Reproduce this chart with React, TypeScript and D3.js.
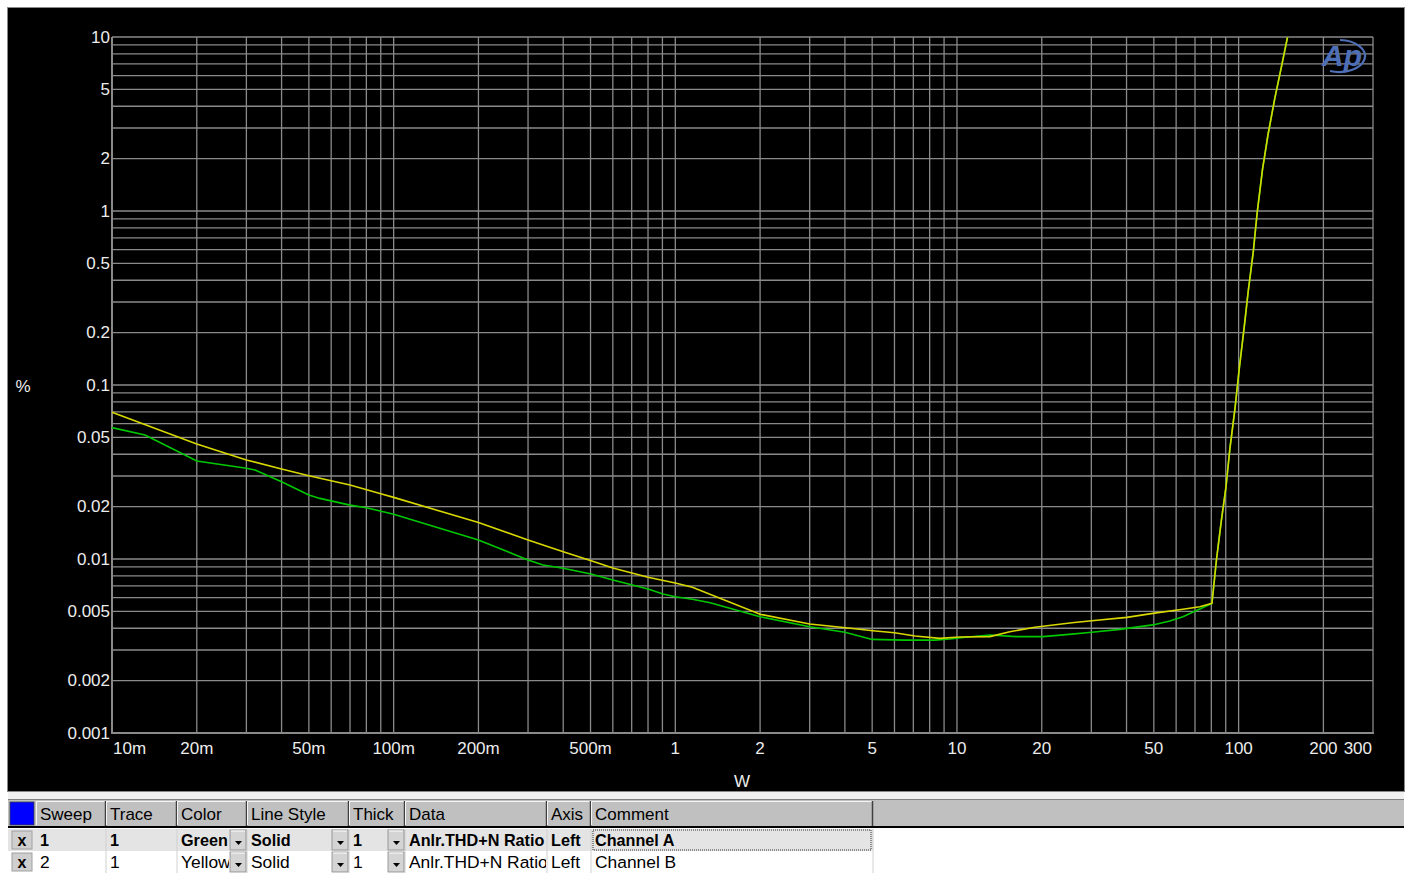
import React from 'react';
import * as d3 from 'd3';

// axis ticks
const xTickValues = [0.01, 0.02, 0.05, 0.1, 0.2, 0.5, 1, 2, 5, 10, 20, 50, 100, 200, 300];
const xTickLabels = ['10m', '20m', '50m', '100m', '200m', '500m', '1', '2', '5', '10', '20', '50', '100', '200', '300'];
const yTickValues = [0.001, 0.002, 0.005, 0.01, 0.02, 0.05, 0.1, 0.2, 0.5, 1, 2, 5, 10];
const yTickLabels = ['0.001', '0.002', '0.005', '0.01', '0.02', '0.05', '0.1', '0.2', '0.5', '1', '2', '5', '10'];

// Channel A (green)
const powerA = [0.01, 0.0131, 0.02, 0.03, 0.0322, 0.04, 0.05, 0.0547, 0.07, 0.08, 0.1, 0.2, 0.3, 0.339, 0.4, 0.506, 0.6, 0.8, 0.904, 1.0, 1.15, 1.33, 2.0, 3.0, 4.0, 5.0, 6.53, 8.35, 9.44, 10.7, 13.1, 16.2, 20.2, 25.6, 30.1, 37.9, 49.6, 57.0, 63.4, 72.8, 80.4, 83.5, 86.9, 90.1, 93.1, 97.0, 100.4, 104.7, 108.2, 112.7, 116.4, 121.6, 127.3, 134.4, 141.9, 149.1];
const thdA = [0.0569, 0.0516, 0.0366, 0.0332, 0.0325, 0.0278, 0.0233, 0.0223, 0.0204, 0.0197, 0.0181, 0.01286, 0.00987, 0.00924, 0.00885, 0.00817, 0.00757, 0.00672, 0.00629, 0.00607, 0.00587, 0.00561, 0.00466, 0.00408, 0.00379, 0.00345, 0.00342, 0.00342, 0.00347, 0.00355, 0.00366, 0.00358, 0.00358, 0.0037, 0.00379, 0.00394, 0.00418, 0.0044, 0.00466, 0.00516, 0.00556, 0.01, 0.0168, 0.0256, 0.0429, 0.0724, 0.122, 0.216, 0.347, 0.581, 0.979, 1.74, 2.77, 4.44, 6.73, 9.95];

// Channel B (yellow)
const powerB = [0.01, 0.02, 0.03, 0.04, 0.05, 0.07, 0.09, 0.1, 0.2, 0.3, 0.4, 0.506, 0.6, 0.8, 1.0, 1.15, 2.0, 3.0, 4.03, 5.03, 6.0, 7.1, 8.7, 10.2, 13.1, 15.4, 18.9, 25.6, 30.1, 40.1, 49.6, 63.4, 72.8, 80.4, 83.5, 86.9, 90.1, 93.1, 97.0, 100.4, 104.7, 108.2, 112.7, 116.4, 121.6, 127.3, 134.4, 141.9, 149.1];
const thdB = [0.0697, 0.0458, 0.0371, 0.0329, 0.0301, 0.0266, 0.0237, 0.0226, 0.0162, 0.01286, 0.01101, 0.00974, 0.00888, 0.00785, 0.00728, 0.00688, 0.00481, 0.00423, 0.00403, 0.00387, 0.00377, 0.00361, 0.0035, 0.00356, 0.00358, 0.00382, 0.00405, 0.0043, 0.00442, 0.00462, 0.00487, 0.00514, 0.00532, 0.00556, 0.01, 0.0168, 0.0256, 0.0429, 0.0724, 0.122, 0.216, 0.347, 0.581, 0.979, 1.74, 2.77, 4.44, 6.73, 9.95];

// legend table
const headers = ['Sweep', 'Trace', 'Color', 'Line Style', 'Thick', 'Data', 'Axis', 'Comment'];
const rowA = ['1', '1', 'Green', 'Solid', '1', 'Anlr.THD+N Ratio', 'Left', 'Channel A'];
const rowB = ['2', '1', 'Yellow', 'Solid', '1', 'Anlr.THD+N Ratio', 'Left', 'Channel B'];

const FONT = '"Liberation Sans", Arial, sans-serif';

function decadeGrid(lo: number, hi: number) {
  const out: number[] = [];
  for (let d = lo; d < hi; d *= 10) {
    for (let m = 1; m <= 9; m++) {
      const v = +(d * m).toPrecision(6);
      if (v <= hi * 1.0001) out.push(v);
    }
  }
  out.push(hi);
  return Array.from(new Set(out));
}

const App: React.FC = () => {
  const x = d3.scaleLog().domain([0.01, 300]).range([112, 1373]);
  const y = d3.scaleLog().domain([0.001, 10]).range([733, 37]);

  const line = d3.line<[number, number]>()
    .x(d => x(d[0]))
    .y(d => y(d[1]));

  const seriesA = powerA.map((p, i) => [p, thdA[i]] as [number, number]);
  const seriesB = powerB.map((p, i) => [p, thdB[i]] as [number, number]);

  const xGrid = decadeGrid(0.01, 300);
  const yGrid = decadeGrid(0.001, 10);
  const gridColor = '#8a8a8a';

  const colEdges = [36, 106, 177, 247, 349, 405, 547, 591, 873];
  const dropCols = [2, 3, 4];
  const rowTop = [829, 851];

  const renderRow = (vals: string[], r: number) => {
    const top = rowTop[r];
    const bold = r === 0;
    return (
      <g key={'row' + r}>
        <rect x={8} y={top} width={865} height={22} fill={bold ? '#e4e4e4' : '#ffffff'} />
        {/* checkbox */}
        <rect x={12} y={top + 2} width={20} height={18} fill="#cfcfcf" stroke="#a0a0a0" />
        <text x={22} y={top + 11} textAnchor="middle" dominantBaseline="central" fontFamily={FONT} fontWeight="bold" fontSize={16} fill="#000">x</text>
        {vals.map((v, i) => {
          const x0 = colEdges[i];
          const x1 = colEdges[i + 1];
          return (
            <g key={i}>
              <line x1={x1} x2={x1} y1={top} y2={top + 22} stroke="#d0d0d0" />
              <text x={x0 + 4} y={top + 11} dominantBaseline="central" fontFamily={FONT} fontSize={bold ? 16.2 : 17.4}
                fontWeight={bold ? 'bold' : 'normal'} fill="#000" clipPath={`url(#clip${i})`}>{v}</text>
            </g>
          );
        })}
        {dropCols.map(i => {
          const x1 = colEdges[i + 1];
          return (
            <g key={'dd' + i}>
              <rect x={x1 - 17} y={top + 1} width={16} height={20} fill="#d4d4d4" stroke="#888" strokeWidth={0.8} />
              <line x1={x1 - 16} x2={x1 - 2} y1={top + 2} y2={top + 2} stroke="#fff" />
              <path d={`M${x1 - 12},${top + 12} L${x1 - 5},${top + 12} L${x1 - 8.5},${top + 16} Z`} fill="#000" />
            </g>
          );
        })}
        {r === 0 && (
          <rect x={593} y={top + 1} width={278} height={20} fill="none" stroke="#333" strokeDasharray="1,1" />
        )}
      </g>
    );
  };

  return (
    <svg width={1406} height={873} style={{ position: 'absolute', left: 0, top: 0, background: '#fff' }}>
      <defs>
        {colEdges.slice(0, -1).map((x0, i) => {
          const w = colEdges[i + 1] - x0 - (dropCols.includes(i) ? 18 : 1);
          return (
            <clipPath id={`clip${i}`} key={i}>
              <rect x={x0} y={795} width={w} height={80} />
            </clipPath>
          );
        })}
      </defs>

      {/* graph frame */}
      <rect x={7} y={7} width={1398} height={785} fill="#888" />
      <rect x={8} y={8} width={1396} height={783} fill="#000" />

      {/* grid */}
      <g>
        {yGrid.map(v => (
          <line key={'gy' + v} x1={112} x2={1373} y1={y(v)} y2={y(v)} stroke={gridColor} strokeWidth={1.3} />
        ))}
        {xGrid.map(v => (
          <line key={'gx' + v} x1={x(v)} x2={x(v)} y1={37} y2={733} stroke={gridColor} strokeWidth={1.3} />
        ))}
        <line x1={112} x2={112} y1={37} y2={734} stroke={gridColor} strokeWidth={2} />
        <line x1={112} x2={1374} y1={733} y2={733} stroke={gridColor} strokeWidth={2} />
      </g>

      {/* tick labels */}
      {yTickValues.map((v, i) => (
        <text key={'yl' + v} x={110} y={y(v)} textAnchor="end" dominantBaseline="central" fontFamily={FONT} fontSize={17} fill="#ececec">{yTickLabels[i]}</text>
      ))}
      {xTickValues.map((v, i) => {
        const anchor = i === 0 ? 'start' : i === xTickValues.length - 1 ? 'end' : 'middle';
        const px = i === 0 ? x(v) + 1 : i === xTickValues.length - 1 ? x(v) - 1 : x(v);
        return (
          <text key={'xl' + v} x={px} y={748} textAnchor={anchor} dominantBaseline="central" fontFamily={FONT} fontSize={17} fill="#ececec">{xTickLabels[i]}</text>
        );
      })}
      <text x={23} y={386} textAnchor="middle" dominantBaseline="central" fontFamily={FONT} fontSize={17} fill="#ececec">%</text>
      <text x={742} y={781} textAnchor="middle" dominantBaseline="central" fontFamily={FONT} fontSize={17} fill="#ececec">W</text>

      {/* curves */}
      <path d={line(seriesA) || ''} fill="none" stroke="#00c800" strokeWidth={1.6} />
      <path d={line(seriesB) || ''} fill="none" stroke="#d8d800" strokeWidth={1.6} />

      {/* AP logo */}
      <g>
        <path d="M1340,40 A26,16 0 1 1 1330,71" fill="none" stroke="#4e6fb5" strokeWidth={2.2} />
        <text x={1322} y={66} fontFamily={FONT} fontStyle="italic" fontWeight="bold" fontSize={30} fill="#4e6fb5">Ap</text>
      </g>

      {/* legend table */}
      <rect x={8} y={792} width={1396} height={7} fill="#f0f0f0" />
      <rect x={8} y={799} width={1396} height={27} fill="#c0c0c0" />
      <line x1={8} x2={1404} y1={799.5} y2={799.5} stroke="#808080" />
      <rect x={8} y={826} width={1396} height={2} fill="#000" />
      <rect x={10} y={802} width={24} height={23} fill="#0000ff" stroke="#404040" strokeWidth={0.8} />
      {headers.map((h, i) => {
        const x0 = colEdges[i];
        const x1 = colEdges[i + 1];
        return (
          <g key={'h' + i}>
            <line x1={x0 + 0.5} x2={x0 + 0.5} y1={801} y2={825} stroke="#f4f4f4" />
            <line x1={x0} x2={x1} y1={801.5} y2={801.5} stroke="#f4f4f4" />
            <line x1={x1 - 0.5} x2={x1 - 0.5} y1={801} y2={826} stroke="#404040" strokeWidth={1.5} />
            <text x={x0 + 4} y={814} dominantBaseline="central" fontFamily={FONT} fontSize={17} fill="#000">{h}</text>
          </g>
        );
      })}
      <rect x={8} y={828} width={1396} height={45} fill="#fff" />
      {renderRow(rowA, 0)}
      {renderRow(rowB, 1)}
    </svg>
  );
};

export default App;
